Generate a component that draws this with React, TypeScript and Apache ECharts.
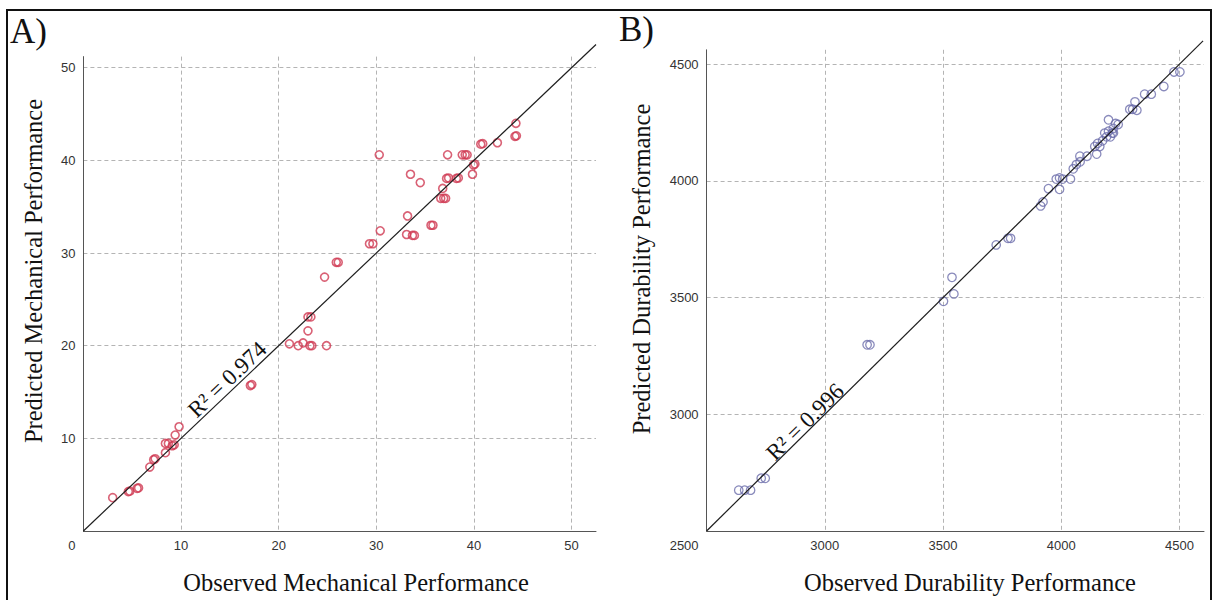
import React, { useEffect, useRef } from "react";
import * as echarts from "echarts";

// ---------- Data: Panel A (Mechanical performance) ----------
const mechObserved = [
  3.0, 4.6, 4.75, 5.5, 5.65, 6.8, 7.2, 7.35, 8.4, 8.4, 8.7, 9.1, 9.3, 9.4, 9.8,
  17.1, 17.25, 21.1, 22.0, 22.5, 23.2, 23.4, 24.9, 23.0, 23.0, 23.3, 24.7, 25.9,
  26.1, 29.3, 29.65, 30.3, 30.4, 33.1, 33.7, 33.9, 33.2, 33.5, 34.5, 35.6, 35.8,
  36.8, 36.6, 36.9, 37.1, 37.2, 37.4, 37.3, 38.2, 38.4, 38.8, 39.1, 39.3, 39.85,
  39.95, 40.1, 40.7, 40.9, 42.4, 44.3, 44.2, 44.35,
];
const mechPredicted = [
  3.6, 4.25, 4.3, 4.6, 4.65, 6.9, 7.7, 7.8, 8.45, 9.45, 9.45, 9.2, 9.3, 10.35, 11.25,
  15.7, 15.8, 20.2, 20.0, 20.3, 20.0, 20.0, 20.0, 21.6, 23.1, 23.1, 27.4, 29.0,
  29.0, 31.0, 31.0, 40.6, 32.4, 32.0, 31.9, 31.9, 34.0, 38.5, 37.6, 33.0, 33.0,
  36.97, 35.9, 35.9, 35.9, 38.05, 38.1, 40.6, 38.05, 38.1, 40.6, 40.6, 40.6, 38.5,
  39.5, 39.6, 41.75, 41.8, 41.9, 44.0, 42.6, 42.65,
];

// ---------- Data: Panel B (Durability performance) ----------
const durObserved = [
  2636, 2661, 2686, 2731, 2748, 3179, 3191, 3502, 3538, 3546, 3725, 3775, 3786,
  3913, 3923, 3946, 3979, 3993, 4006, 3993, 4039, 4051, 4064, 4079, 4080, 4109,
  4142, 4154, 4150, 4163, 4175, 4184, 4192, 4200, 4200, 4208, 4216, 4220, 4230,
  4241, 4221, 4290, 4302, 4312, 4320, 4353, 4381, 4434, 4477, 4502,
];
const durPredicted = [
  2675, 2675, 2675, 2726, 2726, 3298, 3298, 3484, 3587, 3516, 3726, 3754, 3754,
  3893, 3910, 3967, 4008, 4013, 4008, 3964, 4008, 4052, 4070, 4106, 4082, 4106,
  4148, 4161, 4115, 4148, 4172, 4205, 4189, 4262, 4213, 4189, 4205, 4225, 4246,
  4242, 4205, 4307, 4307, 4339, 4303, 4372, 4372, 4405, 4467, 4467,
];

// ---------- Axis / annotation values ----------
const mechRange = [0, 52.5]; // x-extent of panel A
const mechYMax = 51.2;
const mechInterval = 10;
const mechFit = [0, 52.5]; // identity line end points
const durRange = [2500, 4604];
const durYMax = 4562;
const durInterval = 500;
const durFit = [2500, 4600];
const mechR2 = "R\u00B2 = 0.974";
const durR2 = "R\u00B2 = 0.996";
const mechR2At = 15.5;
const durR2At = 2942;

const RED = "#d03a52";
const BLUE = "#6d6eab";
const SANS = "'Liberation Sans', Arial, sans-serif";
const SERIF = "'Liberation Serif', 'Times New Roman', serif";

function zip(a: number[], b: number[]) {
  return a.map((v, i) => [v, b[i]]);
}

function makeAxis(gridIndex: number, min: number, max: number, interval: number, isX: boolean, minPad: number) {
  return {
    type: "value",
    gridIndex,
    min,
    max,
    interval,
    axisLine: { show: true, onZero: false, lineStyle: { color: "#555", width: 1 } },
    axisTick: { show: false },
    splitLine: {
      show: true,
      showMinLine: false,
      showMaxLine: false,
      lineStyle: { color: "#b4b4b4", width: 1, type: [4, 3] },
    },
    axisLabel: {
      show: true,
      margin: 8,
      fontSize: 13,
      color: "#333",
      fontFamily: SANS,
      formatter: (v: number) => {
        if (Math.abs(v % interval) > 1e-6) return "";
        if (v === min) return isX ? `{m|${v}}` : "";
        return String(v);
      },
      rich: {
        m: { padding: [0, minPad, 0, 0], fontSize: 13, color: "#333", fontFamily: SANS },
      },
    },
  };
}

export default function App() {
  const ref = useRef<HTMLDivElement>(null);

  useEffect(() => {
    if (!ref.current) return;
    const chart = echarts.init(ref.current, null, { renderer: "svg" });

    const option: any = {
      animation: false,
      backgroundColor: "#ffffff",
      grid: [
        { left: 83.4, top: 56.6, width: 512.6, height: 474.4, outerBoundsMode: "none" },
        { left: 706.6, top: 49.8, width: 497.4, height: 481.2, outerBoundsMode: "none" },
      ],
      xAxis: [
        makeAxis(0, mechRange[0], mechRange[1], mechInterval, true, 23),
        makeAxis(1, durRange[0], durRange[1], durInterval, true, 45),
      ],
      yAxis: [
        makeAxis(0, mechRange[0], mechYMax, mechInterval, false, 0),
        makeAxis(1, durRange[0], durYMax, durInterval, false, 0),
      ],
      series: [
        {
          type: "scatter",
          xAxisIndex: 0,
          yAxisIndex: 0,
          symbol: "circle",
          symbolSize: 8,
          itemStyle: { color: "rgba(0,0,0,0)", borderColor: RED, borderWidth: 1.6 },
          data: zip(mechObserved, mechPredicted),
          z: 3,
        },
        {
          type: "line",
          xAxisIndex: 0,
          yAxisIndex: 0,
          clip: false,
          symbol: "none",
          silent: true,
          lineStyle: { color: "#1e1e1e", width: 1.2 },
          data: [
            [mechFit[0], mechFit[0]],
            [mechFit[1], mechFit[1]],
          ],
          z: 4,
        },
        {
          type: "scatter",
          xAxisIndex: 1,
          yAxisIndex: 1,
          symbol: "circle",
          symbolSize: 8.5,
          itemStyle: { color: "rgba(0,0,0,0)", borderColor: BLUE, borderWidth: 1.3 },
          data: zip(durObserved, durPredicted),
          z: 3,
        },
        {
          type: "line",
          xAxisIndex: 1,
          yAxisIndex: 1,
          clip: false,
          symbol: "none",
          silent: true,
          lineStyle: { color: "#1e1e1e", width: 1.2 },
          data: [
            [durFit[0], durFit[0]],
            [durFit[1], durFit[1]],
          ],
          z: 4,
        },
      ],
    };
    chart.setOption(option);

    const r2Label = (gridIndex: number, at: number, ref0: number, ref1: number, text: string, d: number) => {
      const p = chart.convertToPixel({ gridIndex }, [at, at]) as number[];
      const a = chart.convertToPixel({ gridIndex }, [ref0, ref0]) as number[];
      const b = chart.convertToPixel({ gridIndex }, [ref1, ref1]) as number[];
      const th = Math.atan2(a[1] - b[1], b[0] - a[0]);
      return {
        type: "text",
        x: p[0] - Math.sin(th) * d,
        y: p[1] - Math.cos(th) * d,
        rotation: th,
        z: 10,
        style: {
          text,
          fontSize: 23,
          fontFamily: SERIF,
          fill: "#111",
          align: "center",
          verticalAlign: "middle",
        },
      };
    };

    chart.setOption({
      graphic: [
        {
          type: "rect",
          shape: { x: 7, y: 10, width: 1204, height: 620 },
          style: { fill: "none", stroke: "#111", lineWidth: 2 },
          z: 20,
        },
        {
          type: "text",
          x: 10,
          y: 31,
          style: { text: "A)", fontSize: 35, fontFamily: SERIF, fill: "#111", align: "left", verticalAlign: "middle" },
        },
        {
          type: "text",
          x: 619,
          y: 29,
          style: { text: "B)", fontSize: 35, fontFamily: SERIF, fill: "#111", align: "left", verticalAlign: "middle" },
        },
        {
          type: "text",
          x: 356,
          y: 582,
          style: { text: "Observed Mechanical Performance", fontSize: 24.5, fontFamily: SERIF, fill: "#111", align: "center", verticalAlign: "middle" },
        },
        {
          type: "text",
          x: 970,
          y: 582,
          style: { text: "Observed Durability Performance", fontSize: 24.5, fontFamily: SERIF, fill: "#111", align: "center", verticalAlign: "middle" },
        },
        {
          type: "text",
          x: 33,
          y: 271,
          rotation: Math.PI / 2,
          style: { text: "Predicted Mechanical Performance", fontSize: 24.5, fontFamily: SERIF, fill: "#111", align: "center", verticalAlign: "middle" },
        },
        {
          type: "text",
          x: 641,
          y: 269,
          rotation: Math.PI / 2,
          style: { text: "Predicted Durability Performance", fontSize: 24.5, fontFamily: SERIF, fill: "#111", align: "center", verticalAlign: "middle" },
        },
        r2Label(0, mechR2At, 0, 50, mechR2, 11),
        r2Label(1, durR2At, 2500, 4500, durR2, 9),
      ],
    });

    return () => chart.dispose();
  }, []);

  return (
    <div
      ref={ref}
      style={{ position: "absolute", left: 0, top: 0, width: 1213, height: 600, background: "#fff" }}
    />
  );
}
